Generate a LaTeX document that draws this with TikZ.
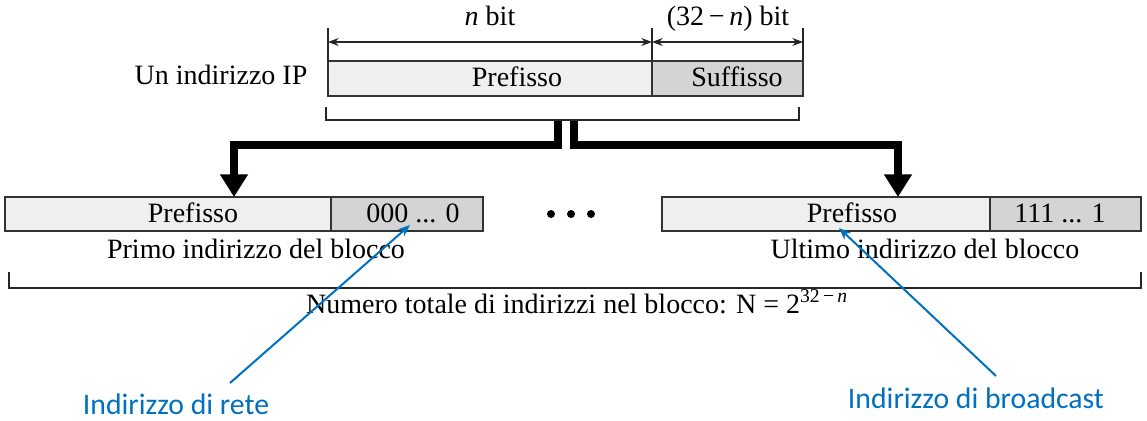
\documentclass[tikz,border=0pt]{standalone}
\usepackage{fontspec}
\setmainfont{Liberation Serif}
\newfontfamily\blufont{Carlito}
\usetikzlibrary{arrows.meta}
\definecolor{pfx}{HTML}{EFEFEF}
\definecolor{sfx}{HTML}{D4D4D4}
\definecolor{annc}{HTML}{0070C0}
\tikzset{
  lbl/.style={font=\fontsize{21}{24}\selectfont, inner sep=0pt, anchor=base},
  annlbl/.style={font=\blufont\fontsize{22.3}{26}\selectfont, text=annc, inner sep=0pt, anchor=base},
  boxline/.style={draw=black!80, line width=1.1pt},
  brk/.style={draw=black!85, line width=1pt},
  dimline/.style={draw=black!85, line width=1pt, {Stealth[length=8pt,width=6pt]}-{Stealth[length=8pt,width=6pt]}},
  bigarrow/.style={draw=black, line width=6pt, line join=miter, -{Triangle[length=17pt,width=20pt]}},
  pointer/.style={draw=annc, line width=1.5pt, -{Stealth[length=9pt,width=7pt]}}
}
\begin{document}
\begin{tikzpicture}[x=0.75pt,y=-0.75pt]
\useasboundingbox (0,0) rectangle (1147,421);
\fill[white] (0,0) rectangle (1147,421);

% top: dimension lines
\draw[brk] (328,28) -- (328,61);
\draw[brk] (652,28) -- (652,61);
\draw[brk] (803,28) -- (803,61);
\draw[dimline] (328,42) -- (652,42);
\draw[dimline] (652,42) -- (803,42);
\node[lbl] (nbit) at (490,26) {\textit{n} bit};
\node[lbl] (rbit) at (728,26) {(32\,−\,\textit{n}) bit};

% top address
\node[lbl] (ipl) at (221,84) {Un indirizzo IP};
\draw[boxline, fill=pfx] (328,61) rectangle (652,96);
\draw[boxline, fill=sfx] (652,61) rectangle (803,96);
\node[lbl] (tpre) at (517,86) {Prefisso};
\node[lbl] (tsuf) at (737,86) {Suffisso};

% top bracket
\draw[brk] (326,107) -- (326,120) -- (799,120) -- (799,107);

% thick split arrows
\coordinate (sl) at (557.5,121);
\coordinate (sr) at (573.5,121);
\coordinate (tl) at (234,197);
\coordinate (tr) at (898,197);
\draw[bigarrow] (sl) |- (234,145) -- (tl);
\draw[bigarrow] (sr) |- (898,145) -- (tr);

% bottom left block
\draw[boxline, fill=pfx] (5,197) rectangle (331,231);
\draw[boxline, fill=sfx] (331,197) rectangle (483,231);
\node[lbl] (lpre) at (193,222) {Prefisso};
\node[lbl] (lsuf) at (413,222) {000 ... 0};
\node[lbl] (prim) at (256,258) {Primo indirizzo del blocco};

% dots
\fill (551,214) circle (4);
\fill (571,214) circle (4);
\fill (591,214) circle (4);

% bottom right block
\draw[boxline, fill=pfx] (662,197) rectangle (990,231);
\draw[boxline, fill=sfx] (990,197) rectangle (1141,231);
\node[lbl] (rpre) at (852,222) {Prefisso};
\node[lbl] (rsuf) at (1060,222) {111 ... 1};
\node[lbl] (ulti) at (925,258) {Ultimo indirizzo del blocco};

% bottom bracket
\draw[brk] (9,272) -- (9,288) -- (1141,288) -- (1141,272);
\node[lbl] (num) at (577,313) {Numero totale di indirizzi nel blocco: N = 2\textsuperscript{32\,−\,\textit{n}}};

% annotations
\node[annlbl] (rete) at (176,414) {Indirizzo di rete};
\node[annlbl] (bcast) at (976,408) {Indirizzo di broadcast};
\coordinate (retetail) at (230,383);
\coordinate (retetip) at (410,225);
\coordinate (bctail) at (996,376);
\coordinate (bctip) at (839,228);
\draw[pointer] (retetail) -- (retetip);
\draw[pointer] (bctail) -- (bctip);
\end{tikzpicture}
\end{document}
